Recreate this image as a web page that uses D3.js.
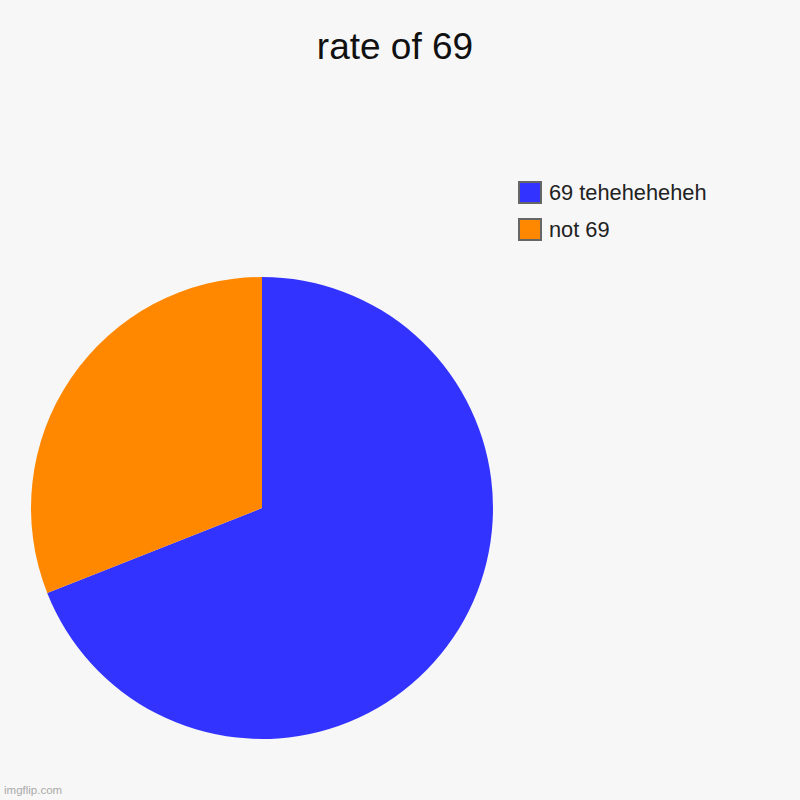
<!DOCTYPE html>
<html>
<head>
<meta charset="utf-8">
<script src="https://cdn.jsdelivr.net/npm/d3@7"></script>
<style>
  body { margin: 0; background: #f7f7f7; }
  svg { display: block; }
</style>
</head>
<body>
<div id="chart"></div>
<script>
var labels = ["69 teheheheheh", "not 69"];
var values = [69, 31];
var colors = ["#3333ff", "#ff8800"];

var width = 800,
    height = 800,
    radius = 231,
    center = {x: 262, y: 508};

var colorScale = d3.scaleOrdinal()
    .domain(labels)
    .range(colors);

var svg = d3.select("#chart")
    .append("svg")
    .attr("width", width)
    .attr("height", height)
    .style("font-family", "'Liberation Sans', Arial, sans-serif");

svg.append("rect")
    .attr("width", width)
    .attr("height", height)
    .attr("fill", "#f7f7f7");

svg.append("text")
    .attr("x", 395)
    .attr("y", 59)
    .attr("text-anchor", "middle")
    .attr("font-size", 37)
    .attr("fill", "#111")
    .text("rate of 69");

var pieData = labels.map(function(d, i) { return {label: d, value: values[i]}; });

var pie = d3.pie()
    .sort(null)
    .value(function(d) { return d.value; });

var arc = d3.arc()
    .innerRadius(0)
    .outerRadius(radius);

var g = svg.append("g")
    .attr("transform", "translate(" + center.x + "," + center.y + ")");

g.selectAll("path")
    .data(pie(pieData))
    .enter()
    .append("path")
    .attr("d", arc)
    .attr("fill", function(d) { return colorScale(d.data.label); });

// legend
var legend = svg.selectAll(".legend")
    .data(labels)
    .enter()
    .append("g")
    .attr("class", "legend")
    .attr("transform", function(d, i) { return "translate(519," + (182 + i * 37) + ")"; });

legend.append("rect")
    .attr("width", 22)
    .attr("height", 21)
    .attr("fill", function(d) { return colorScale(d); })
    .attr("stroke", "#666")
    .attr("stroke-width", 2);

legend.append("text")
    .attr("x", 30)
    .attr("y", 18)
    .attr("font-size", 21.8)
    .attr("fill", "#222")
    .text(function(d) { return d; });

svg.append("text")
    .attr("x", 4)
    .attr("y", 794)
    .attr("font-size", 11.5)
    .attr("fill", "#aaa")
    .text("imgflip.com");
</script>
</body>
</html>
